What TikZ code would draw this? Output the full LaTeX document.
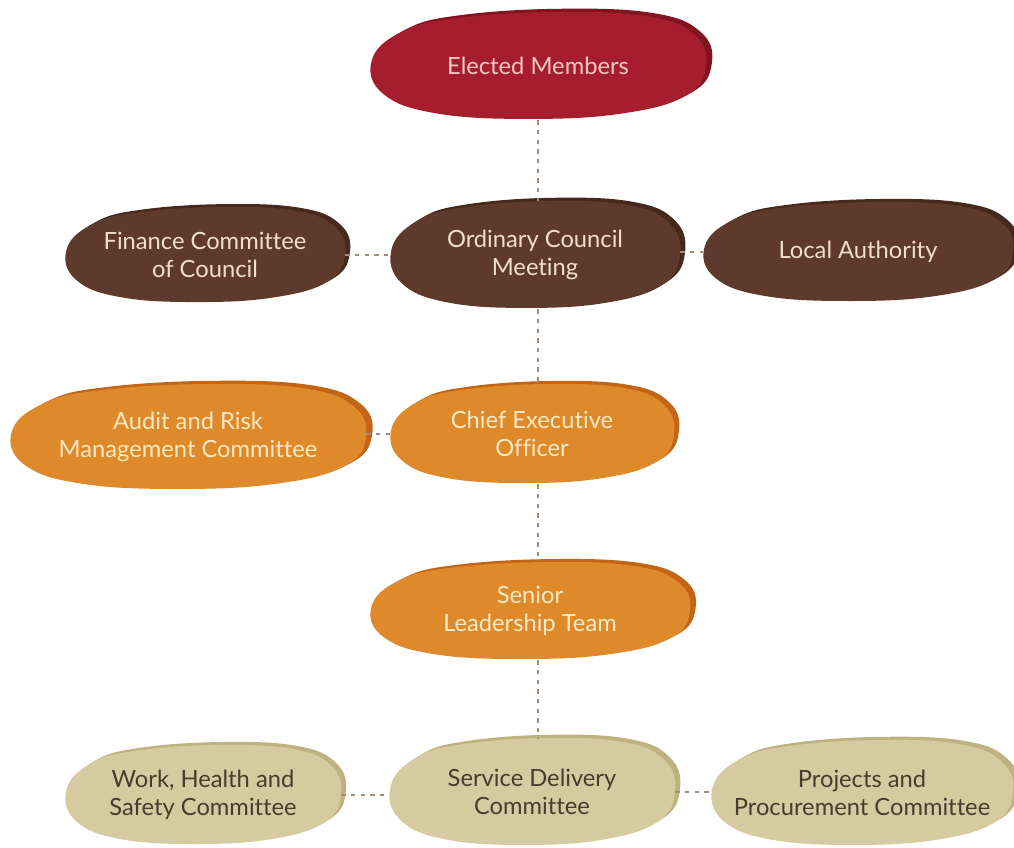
\documentclass[tikz,border=0pt]{standalone}
\usepackage{fontspec}
\setmainfont{Lato}[Ligatures=NoCommon]
\begin{document}
\begin{tikzpicture}[x=0.02cm,y=-0.02cm,
  % colour tones: body, darker rim, label
  elect body/.style={fill={rgb,255:red,166;green,30;blue,45}},
  elect rim/.style={fill={rgb,255:red,130;green,20;blue,32}},
  elect label/.style={text={rgb,255:red,246;green,200;blue,196}},
  council body/.style={fill={rgb,255:red,94;green,58;blue,44}},
  council rim/.style={fill={rgb,255:red,70;green,40;blue,28}},
  council label/.style={text={rgb,255:red,240;green,222;blue,208}},
  exec body/.style={fill={rgb,255:red,222;green,137;blue,42}},
  exec rim/.style={fill={rgb,255:red,196;green,100;blue,22}},
  exec label/.style={text={rgb,255:red,253;green,233;blue,196}},
  cmte body/.style={fill={rgb,255:red,214;green,203;blue,160}},
  cmte rim/.style={fill={rgb,255:red,192;green,178;blue,128}},
  cmte label/.style={text={rgb,255:red,74;green,60;blue,44}},
  orglabel/.style={inner sep=0pt, align=center, font=\fontsize{13.5}{16}\selectfont},
  link/.style={draw={rgb,255:red,160;green,138;blue,122}, line width=0.6pt,
               dash pattern=on 2.5pt off 3pt},
]
\useasboundingbox (0,0) rectangle (1014,848);

% blob outline in unit coordinates (y grows downward)
\def\blobpts{(-0.5,-0.88) (0.1,-1) (0.65,-0.92) (0.93,-0.58) (1,0)
  (0.88,0.55) (0.5,0.88) (-0.05,0.98) (-0.6,0.88) (-0.92,0.52) (-0.99,-0.1) (-0.82,-0.62)}

% \orgbox{name}{cx}{cy}{half width}{half height}{tone}{text}
\newcommand\orgbox[7]{%
  \begin{scope}[shift={(#2,#3)}, xscale=#4, yscale=#5]
    \fill[#6 rim, shift={(0.035,-0.06)}] plot[smooth cycle, tension=0.7]
      coordinates {\blobpts};
    \fill[#6 body] plot[smooth cycle, tension=0.7] coordinates {\blobpts};
  \end{scope}
  \node[orglabel, #6 label, minimum width={#4*0.04cm},
        minimum height={#5*0.04cm}] (#1) at (#2,#3) {#7};
}

\orgbox{em}{538}{66}{168}{54}{elect}{Elected Members}
\orgbox{fin}{205}{255}{140}{48}{council}{Finance Committee\\of Council}
\orgbox{ocm}{535}{255}{145}{54}{council}{Ordinary Council\\Meeting}
\orgbox{la}{858}{252}{155}{50}{council}{Local Authority}
\orgbox{arm}{188}{437}{178}{53}{exec}{Audit and Risk\\Management Committee}
\orgbox{ceo}{532}{434}{142}{50}{exec}{Chief Executive\\Officer}
\orgbox{slt}{530}{611}{160}{49}{exec}{Senior\\Leadership Team}
\orgbox{whs}{203}{795}{138}{50}{cmte}{Work, Health and\\Safety Committee}
\orgbox{sdc}{532}{792}{143}{54}{cmte}{Service Delivery\\Committee}
\orgbox{ppc}{862}{793}{151}{53}{cmte}{Projects and\\Procurement Committee}

% reporting lines
\draw[link] (em.south) -- (em.south |- ocm.north);
\draw[link] (em.south |- ocm.south) -- (em.south |- ceo.north);
\draw[link] (em.south |- ceo.south) -- (em.south |- slt.north);
\draw[link] (em.south |- slt.south) -- (em.south |- sdc.north);
\draw[link] (fin.east) -- (fin.east -| ocm.west);
\draw[link] (ocm.east |- la.west) -- (la.west);
\draw[link] (ceo.west -| arm.east) -- (ceo.west);
\draw[link] (whs.east) -- (whs.east -| sdc.west);
\draw[link] (sdc.east) -- (sdc.east -| ppc.west);
\end{tikzpicture}
\end{document}
